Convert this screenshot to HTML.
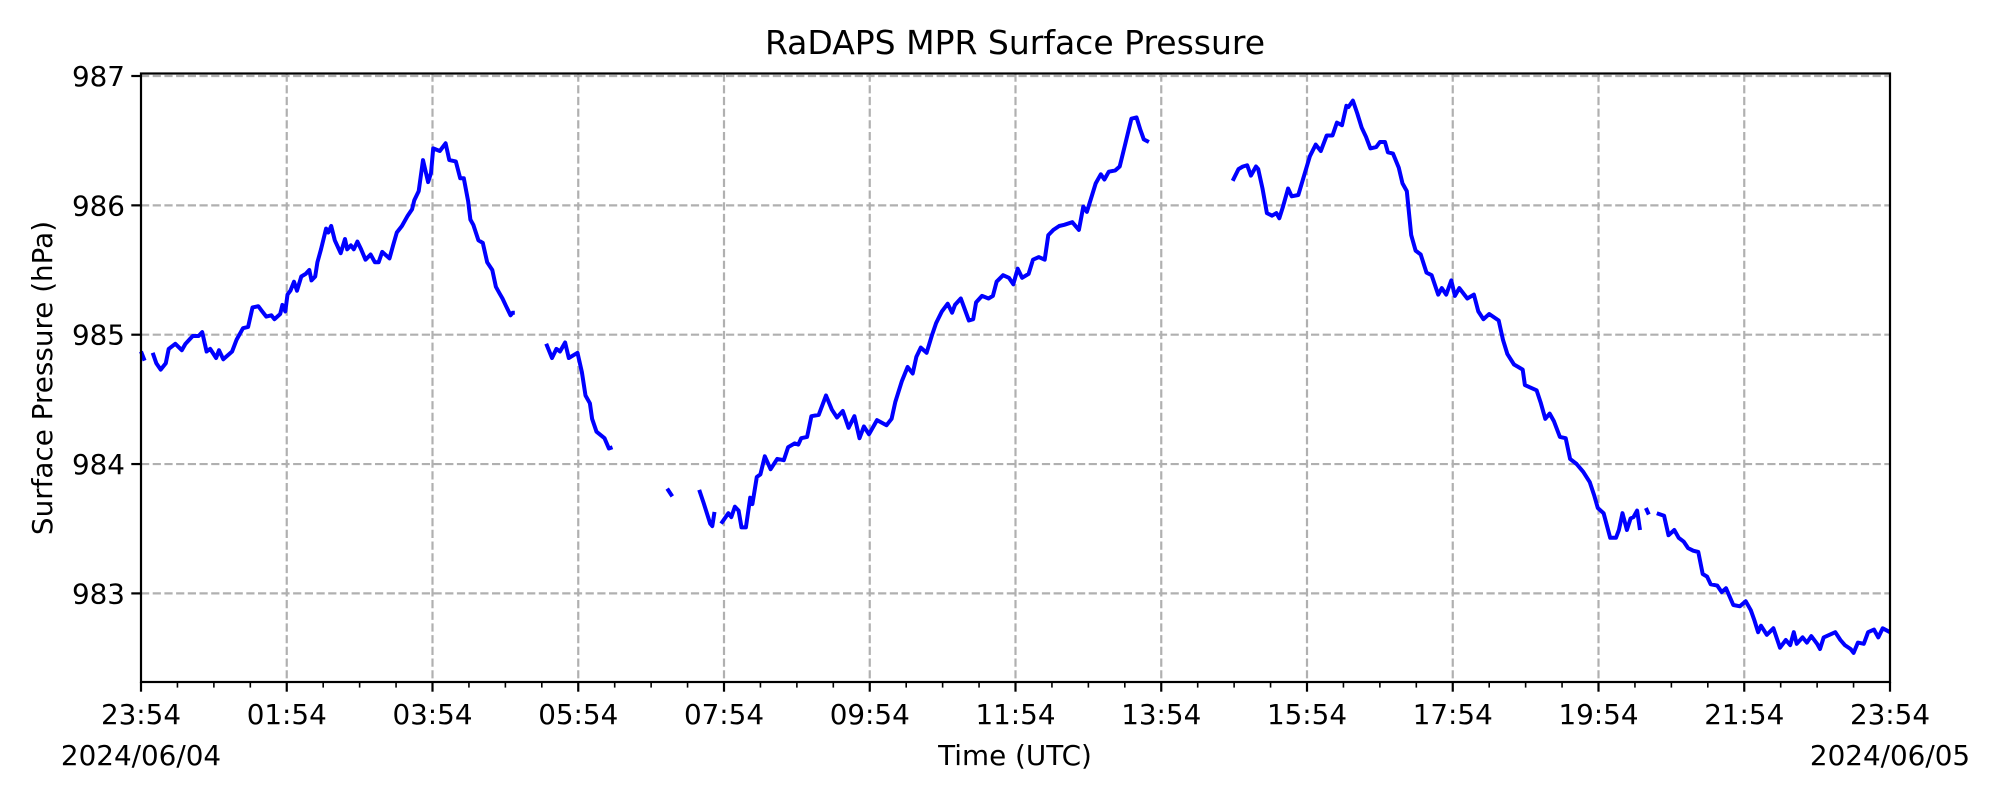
<!DOCTYPE html>
<html><head><meta charset="utf-8"><style>
html,body{margin:0;padding:0;background:#fff;}
svg{display:block;font-family:"DejaVu Sans","Liberation Sans",sans-serif;}
</style></head><body>
<svg id="chart" width="2000" height="800" viewBox="0 0 2000 800" xmlns="http://www.w3.org/2000/svg">
<rect width="2000" height="800" fill="#fff"/>
<text x="1015" y="54" font-size="33" text-anchor="middle">RaDAPS MPR Surface Pressure</text>
<text transform="translate(52,378) rotate(-90)" font-size="27.8" text-anchor="middle">Surface Pressure (hPa)</text>
<text x="1015" y="765" font-size="27.8" text-anchor="middle">Time (UTC)</text>
<text x="141" y="765" font-size="27.8" text-anchor="middle">2024/06/04</text>
<text x="1890" y="765" font-size="27.8" text-anchor="middle">2024/06/05</text>
<g id="grid"></g>
<g id="ticks"></g>
<path id="series" fill="none" stroke="#0000ff" stroke-width="4" stroke-linejoin="round"/>
<rect x="141" y="73.5" width="1749" height="608.5" fill="none" stroke="#000" stroke-width="2.2"/>
</svg>
<script>
const yTicks = [983, 984, 985, 986, 987];
const xTickHours = [0, 2, 4, 6, 8, 10, 12, 14, 16, 18, 20, 22, 24];
const xTickLabels = ["23:54","01:54","03:54","05:54","07:54","09:54","11:54","13:54","15:54","17:54","19:54","21:54","23:54"];
// hours since 23:54, null = gap
const times = [0,0.05,null,
0.16,0.21,0.27,0.34,0.38,0.47,0.56,0.61,0.71,0.79,0.84,0.90,0.95,1.03,1.07,1.13,1.25,1.31,1.40,1.47,1.53,1.61,1.65,1.72,1.79,1.83,1.91,1.94,1.98,2.01,2.05,2.10,2.14,2.20,2.26,2.31,2.34,2.39,2.42,2.47,2.54,2.57,2.61,2.66,2.74,2.80,2.83,2.88,2.92,2.97,3.02,3.08,3.15,3.21,3.26,3.31,3.35,3.41,3.46,3.51,3.58,3.66,3.72,3.75,3.81,3.87,3.94,3.98,4.01,4.10,4.18,4.23,4.32,4.38,4.43,4.49,4.52,4.56,4.63,4.69,4.75,4.82,4.87,4.92,4.96,5.01,5.07,5.10,5.13,null,
5.56,5.64,5.70,5.75,5.82,5.87,5.93,5.99,6.05,6.10,6.16,6.19,6.25,6.36,6.42,6.47,null,
7.22,7.29,null,
7.66,7.72,7.81,7.84,7.87,null,
7.96,8.06,8.10,8.15,8.20,8.24,8.30,8.36,8.39,8.45,8.50,8.56,8.64,8.73,8.82,8.88,8.97,9.02,9.06,9.14,9.20,9.30,9.40,9.48,9.55,9.63,9.71,9.79,9.86,9.92,9.99,10.10,10.23,10.30,10.35,10.44,10.52,10.59,10.64,10.70,10.78,10.85,10.91,10.99,11.07,11.13,11.17,11.25,11.36,11.42,11.46,11.54,11.63,11.69,11.74,11.83,11.91,11.97,12.03,12.09,12.18,12.24,12.32,12.40,12.45,12.52,12.60,12.67,12.78,12.87,12.93,12.98,13.04,13.10,13.17,13.22,13.28,13.37,13.43,13.50,13.59,13.66,13.71,13.76,13.83,null,
14.98,15.06,15.12,15.18,15.23,15.30,15.33,15.39,15.45,15.52,15.58,15.62,15.67,15.74,15.79,15.88,15.96,16.04,16.12,16.19,16.27,16.35,16.41,16.48,16.54,16.57,16.63,16.69,16.75,16.81,16.87,16.95,17.00,17.07,17.11,17.18,17.26,17.31,17.37,17.43,17.49,17.56,17.64,17.71,17.80,17.85,17.91,17.98,18.03,18.09,18.20,18.29,18.35,18.42,18.50,18.63,18.69,18.75,18.84,18.90,18.96,18.99,19.07,19.15,19.21,19.27,19.33,19.39,19.47,19.55,19.61,19.70,19.79,19.88,19.94,19.99,20.07,20.16,20.24,20.28,20.33,20.39,20.44,20.48,20.53,20.57,null,
20.65,20.69,null,
20.80,20.90,20.96,21.04,21.10,21.17,21.23,21.30,21.37,21.43,21.49,21.54,21.63,21.69,21.75,21.85,21.94,22.02,22.09,22.14,22.19,22.23,22.31,22.40,22.49,22.57,22.63,22.68,22.72,22.80,22.86,22.92,23.00,23.04,23.09,23.17,23.25,23.32,23.38,23.46,23.50,23.56,23.64,23.70,23.78,23.84,23.90,24.00];
const pressures = [984.87,984.80,null,
984.86,984.78,984.73,984.78,984.89,984.93,984.88,984.93,984.99,984.99,985.02,984.87,984.89,984.82,984.88,984.81,984.87,984.96,985.05,985.06,985.21,985.22,985.19,985.14,985.15,985.12,985.16,985.23,985.18,985.31,985.34,985.41,985.34,985.45,985.47,985.50,985.42,985.45,985.56,985.66,985.82,985.79,985.84,985.73,985.63,985.74,985.66,985.69,985.66,985.72,985.66,985.58,985.62,985.56,985.56,985.64,985.62,985.59,985.69,985.79,985.84,985.92,985.97,986.04,986.11,986.35,986.18,986.25,986.44,986.42,986.48,986.35,986.34,986.21,986.21,986.03,985.89,985.85,985.73,985.71,985.56,985.50,985.37,985.32,985.28,985.22,985.15,985.17,985.17,null,
984.93,984.82,984.89,984.87,984.94,984.82,984.84,984.86,984.71,984.53,984.47,984.35,984.25,984.20,984.12,984.13,null,
983.81,983.75,null,
983.80,983.70,983.54,983.52,983.63,null,
983.54,983.62,983.59,983.67,983.64,983.51,983.51,983.74,983.69,983.90,983.92,984.06,983.96,984.04,984.03,984.13,984.16,984.15,984.20,984.21,984.37,984.38,984.53,984.42,984.36,984.41,984.28,984.37,984.20,984.29,984.23,984.34,984.30,984.35,984.48,984.64,984.75,984.70,984.83,984.90,984.86,984.99,985.09,985.18,985.24,985.17,985.23,985.28,985.11,985.12,985.25,985.30,985.28,985.30,985.41,985.46,985.44,985.39,985.51,985.44,985.47,985.58,985.60,985.58,985.77,985.81,985.84,985.85,985.87,985.81,985.99,985.95,986.06,986.17,986.24,986.20,986.26,986.27,986.30,986.46,986.67,986.68,986.59,986.51,986.49,null,
986.19,986.28,986.30,986.31,986.23,986.30,986.28,986.13,985.94,985.92,985.94,985.90,985.99,986.13,986.07,986.08,986.23,986.38,986.47,986.42,986.54,986.54,986.64,986.62,986.77,986.76,986.81,986.71,986.60,986.53,986.44,986.45,986.49,986.49,986.41,986.40,986.29,986.17,986.11,985.77,985.65,985.62,985.48,985.46,985.31,985.36,985.31,985.42,985.30,985.36,985.28,985.31,985.18,985.12,985.16,985.11,984.96,984.85,984.77,984.75,984.73,984.61,984.59,984.57,984.47,984.35,984.39,984.33,984.21,984.20,984.04,984.00,983.94,983.86,983.76,983.66,983.62,983.43,983.43,983.49,983.62,983.49,983.58,983.59,983.64,983.49,null,
983.66,983.61,null,
983.62,983.60,983.45,983.49,983.43,983.40,983.35,983.33,983.32,983.15,983.13,983.07,983.06,983.01,983.04,982.91,982.90,982.94,982.87,982.79,982.70,982.75,982.68,982.73,982.58,982.64,982.60,982.70,982.61,982.66,982.62,982.67,982.61,982.57,982.66,982.68,982.70,982.64,982.60,982.57,982.54,982.62,982.61,982.70,982.72,982.66,982.73,982.70];

const X0 = 141, X1 = 1890, TOP = 73.5, BOT = 682;
const xScale = t => X0 + t * (X1 - X0) / 24;
const yScale = v => 76 + (987 - v) * 129.35;
const NS = "http://www.w3.org/2000/svg";
const grid = document.getElementById('grid');
const ticks = document.getElementById('ticks');
function mk(tag, attrs, parent) {
  const e = document.createElementNS(NS, tag);
  for (const k in attrs) e.setAttribute(k, attrs[k]);
  parent.appendChild(e);
  return e;
}
yTicks.forEach(v => {
  const y = yScale(v);
  const g = mk('line', {x1: X0, x2: X1, y1: y, y2: y, stroke: '#b0b0b0', 'stroke-width': 2.2, 'stroke-dasharray': '8.2 3.5'}, grid);
  
  
  const t = mk('line', {x1: X0 - 9.7, x2: X0, y1: y, y2: y, stroke: '#000', 'stroke-width': 2.2}, ticks);
  
  
  const l = mk('text', {x: X0 - 16, y: y + 10, 'font-size': 27.8, 'text-anchor': 'end'}, ticks);
  
  
  l.textContent = String(v);
});
xTickHours.forEach((h, i) => {
  const x = xScale(h);
  if (i > 0 && i < xTickHours.length - 1) {
    const g = mk('line', {x1: x, x2: x, y1: TOP, y2: BOT, stroke: '#b0b0b0', 'stroke-width': 2.2, 'stroke-dasharray': '8.2 3.5'}, grid);
    
    
  }
  const t = mk('line', {x1: x, x2: x, y1: BOT, y2: BOT + 9.7, stroke: '#000', 'stroke-width': 2.2}, ticks);
  
  
  const l = mk('text', {x: x, y: 724, 'font-size': 27.8, 'text-anchor': 'middle'}, ticks);
  
  
  l.textContent = xTickLabels[i];
});
for (let m = 0.5; m < 24; m += 0.5) {
  if (Math.abs(m % 2) < 1e-9) continue;
  const x = xScale(m);
  const t = mk('line', {x1: x, x2: x, y1: BOT, y2: BOT + 5.6, stroke: '#000', 'stroke-width': 1.6}, ticks);
  
  
}
let d = '', pen = false;
for (let i = 0; i < times.length; i++) {
  if (times[i] === null || pressures[i] === null) { pen = false; continue; }
  d += (pen ? 'L' : 'M') + xScale(times[i]).toFixed(1) + ',' + yScale(pressures[i]).toFixed(1);
  pen = true;
}
document.getElementById('series').setAttribute('d', d);
</script>
</body></html>
